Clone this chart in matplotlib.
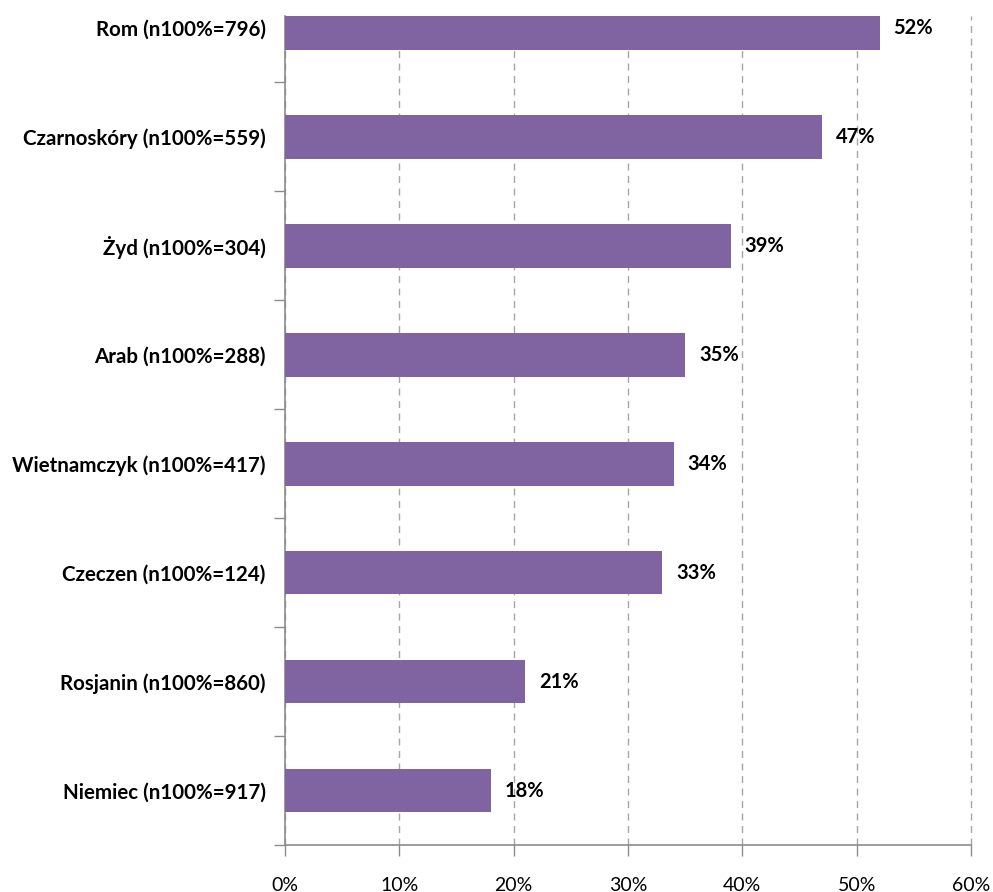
import matplotlib
matplotlib.use("Agg")
from matplotlib import pyplot as plt
from matplotlib.ticker import FixedLocator, FuncFormatter
import numpy as np

# kategorie od gory do dolu
categories = ["Rom (n100%=796)", "Czarnoskóry (n100%=559)", "Żyd (n100%=304)",
              "Arab (n100%=288)", "Wietnamczyk (n100%=417)", "Czeczen (n100%=124)",
              "Rosjanin (n100%=860)", "Niemiec (n100%=917)"]
values = [52, 47, 39, 35, 34, 33, 21, 18]
xticks = [0, 10, 20, 30, 40, 50, 60]

bar_color = "#8064A2"
axis_color = "#8C8C8C"

plt.rcParams["font.family"] = ["Lato", "DejaVu Sans"]

W, H = 993, 892
fig = plt.figure(figsize=(W / 100, H / 100), dpi=100)
ax = fig.add_axes([285 / W, 47 / H, (971 - 285) / W, (845 - 16) / H])

n = len(categories)
ypos = np.arange(n)[::-1]  # Rom na gorze
ax.barh(ypos, values, height=0.4, color=bar_color, zorder=3)

for y, v in zip(ypos, values):
    ax.annotate(f"{v}%", xy=(v, y), xytext=(10, 0), textcoords="offset points",
                ha="left", va="center", fontsize=14.5, fontweight="bold", color="black")

ax.set_xlim(0, 60)
ax.set_ylim(-0.5, n - 1 + 0.11)

ax.set_xticks(xticks)
ax.xaxis.set_major_formatter(FuncFormatter(lambda x, p: f"{int(x)}%"))
ax.tick_params(axis="x", direction="out", length=8, width=1, color=axis_color,
               pad=15, labelsize=14, labelcolor="black")

ax.set_yticks(ypos)
ax.set_yticklabels(categories, fontsize=14.8, fontweight="bold")
ax.yaxis.set_minor_locator(FixedLocator(np.arange(-0.5, n - 1, 1.0)))
ax.tick_params(axis="y", which="major", length=0, pad=14)
ax.tick_params(axis="y", which="minor", direction="out", length=8, width=1, color=axis_color)

# przerywane linie siatki, ostatnia (60%) lezy na krawedzi osi
ax.grid(axis="x", linestyle=(0, (5, 4)), color="#A6A6A6", linewidth=1, zorder=0)
for gl in ax.get_xgridlines():
    gl.set_clip_on(False)

for side in ("top", "right"):
    ax.spines[side].set_visible(False)
for side in ("left", "bottom"):
    ax.spines[side].set_color(axis_color)
    ax.spines[side].set_linewidth(1.2)

fig.savefig("out.png", dpi=100)
